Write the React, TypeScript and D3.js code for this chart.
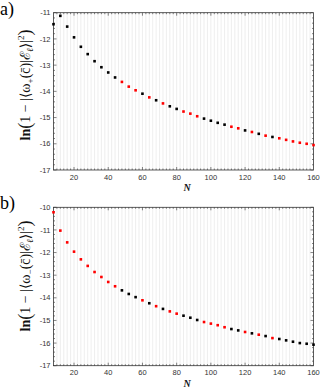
import React, { useEffect, useRef } from 'react';
import * as d3 from 'd3';

// N values (x axis)
const nValues = [8, 12, 16, 20, 24, 28, 32, 36, 40, 44, 48, 52, 56, 60, 64, 68, 72, 76, 80, 84,
  88, 92, 96, 100, 104, 108, 112, 116, 120, 124, 128, 132, 136, 140, 144, 148, 152, 156, 160];

// panel a) ln(1 - |<w+(c)|E_l>|^2)
const valuesA = [-11.44, -11.12, -11.53, -11.94, -12.30, -12.58, -12.85, -13.08, -13.28, -13.47,
  -13.64, -13.82, -13.96, -14.09, -14.23, -14.34, -14.46, -14.57, -14.67, -14.77,
  -14.85, -14.95, -15.04, -15.12, -15.20, -15.27, -15.35, -15.41, -15.49, -15.55,
  -15.62, -15.69, -15.74, -15.79, -15.85, -15.91, -15.96, -16.00, -16.05];
// k = black, r = red
const groupsA = 'kkkkkkkkkkrrrkrkrkkrrrkkkkrrkrkrkrrrrrr';

// panel b) ln(1 - |<w-(c)|E_l>|^2)
const valuesB = [-10.22, -11.03, -11.55, -11.96, -12.30, -12.59, -12.86, -13.08, -13.30, -13.49,
  -13.67, -13.83, -13.97, -14.11, -14.24, -14.37, -14.49, -14.60, -14.70, -14.79,
  -14.88, -14.98, -15.07, -15.14, -15.21, -15.30, -15.38, -15.44, -15.51, -15.57,
  -15.63, -15.69, -15.78, -15.82, -15.88, -15.94, -16.00, -16.03, -16.07];
const groupsB = 'rrrrrrrrrrkkkrkrkrrkkkrrrrkkrkrkrkkkkkk';

const xTicks = [20, 40, 60, 80, 100, 120, 140, 160];
const yTicksA = [-11, -12, -13, -14, -15, -16, -17];
const yTicksB = [-10, -11, -12, -13, -14, -15, -16, -17];

const colorOf: Record<string, string> = { k: '#000000', r: '#ff0000' };

function drawPanel(
  svg: d3.Selection<SVGSVGElement, unknown, null, undefined>,
  top: number, bottom: number,
  yDomain: [number, number], yTicks: number[],
  values: number[], groups: string,
  panelLabel: string, sign: string, labelY: number
) {
  const left = 53.5, right = 313.5;
  const x = d3.scaleLinear().domain([8, 160]).range([left, right]);
  const y = d3.scaleLinear().domain(yDomain).range([bottom, top]);
  const g = svg.append('g');

  // vertical grid
  g.selectAll('line.grid')
    .data(d3.range(10, 160, 2))
    .enter().append('line')
    .attr('x1', d => x(d)).attr('x2', d => x(d))
    .attr('y1', top).attr('y2', bottom)
    .attr('stroke', '#e6e6e6').attr('stroke-width', 0.7);

  // minor ticks x (inward, top and bottom)
  const xMinor = d3.range(10, 160, 2);
  [bottom, top].forEach((yy, i) => {
    g.selectAll(null).data(xMinor).enter().append('line')
      .attr('x1', d => x(d)).attr('x2', d => x(d))
      .attr('y1', yy).attr('y2', d => yy + (i === 0 ? -1 : 1) * (d % 20 === 0 ? 3 : 1.5))
      .attr('stroke', '#333').attr('stroke-width', 0.6);
  });
  // minor ticks y (left and right)
  const yMinor = d3.range(Math.round(yDomain[0] * 5), Math.round(yDomain[1] * 5) + 1).map(v => v / 5);
  [left, right].forEach((xx, i) => {
    g.selectAll(null).data(yMinor).enter().append('line')
      .attr('y1', d => y(d)).attr('y2', d => y(d))
      .attr('x1', xx).attr('x2', d => xx + (i === 0 ? 1 : -1) * (Math.abs(d - Math.round(d)) < 1e-6 ? 3 : 1.5))
      .attr('stroke', '#333').attr('stroke-width', 0.6);
  });

  // frame
  g.append('rect')
    .attr('x', left).attr('y', top)
    .attr('width', right - left).attr('height', bottom - top)
    .attr('fill', 'none').attr('stroke', '#333').attr('stroke-width', 0.8);

  // tick labels
  g.selectAll(null).data(xTicks).enter().append('text')
    .attr('x', d => x(d)).attr('y', bottom + 9.5)
    .attr('text-anchor', 'middle')
    .attr('font-family', 'Liberation Sans, Arial, sans-serif')
    .attr('font-size', 7.5).attr('fill', '#333')
    .text(d => String(d));
  g.selectAll(null).data(yTicks).enter().append('text')
    .attr('x', left - 3).attr('y', d => y(d) + 2.6)
    .attr('text-anchor', 'end')
    .attr('font-family', 'Liberation Sans, Arial, sans-serif')
    .attr('font-size', 7.5).attr('fill', '#333')
    .text(d => String(d));

  // N label
  g.append('text')
    .attr('x', 187).attr('y', bottom + 21)
    .attr('text-anchor', 'middle')
    .attr('font-family', 'Liberation Serif, serif')
    .attr('font-style', 'italic').attr('font-weight', 'bold')
    .attr('font-size', 10).attr('fill', '#111')
    .text('N');

  // y label
  const t = g.append('text')
    .attr('transform', `translate(30,${labelY}) rotate(-90)`)
    .attr('text-anchor', 'middle')
    .attr('font-family', 'Liberation Serif, DejaVu Serif, serif')
    .attr('font-size', 14).attr('fill', '#111');
  t.append('tspan').attr('font-weight', 'bold').text('ln');
  t.append('tspan').attr('font-size', 18).attr('dy', 1).text('(');
  t.append('tspan').attr('dy', -1).text('1 − |⟨ω');
  t.append('tspan').attr('font-size', 9).attr('dy', 3).text(sign);
  t.append('tspan').attr('dy', -3).text('(c\u0304)|ℰ');
  t.append('tspan').attr('font-size', 9).attr('dy', 3).attr('font-style', 'italic').text('ℓ');
  t.append('tspan').attr('dy', -3).text('⟩|');
  t.append('tspan').attr('font-size', 9).attr('dy', -6).text('2');
  t.append('tspan').attr('font-size', 18).attr('dy', 7).text(')');

  // panel label
  svg.append('text')
    .attr('x', 0).attr('y', top + 2)
    .attr('font-family', 'Liberation Serif, serif')
    .attr('font-size', 18).attr('fill', '#000')
    .text(panelLabel);

  // points
  g.selectAll('rect.pt')
    .data(values)
    .enter().append('rect')
    .attr('x', (d, i) => x(nValues[i]) - 1.3)
    .attr('y', d => y(d) - 1.3)
    .attr('width', 2.6).attr('height', 2.6)
    .attr('fill', (d, i) => colorOf[groups[i]]);
}

export default function App() {
  const ref = useRef<SVGSVGElement>(null);

  useEffect(() => {
    if (!ref.current) return;
    const svg = d3.select(ref.current);
    svg.selectAll('*').remove();
    svg.append('rect').attr('width', 325).attr('height', 391).attr('fill', '#fff');
    drawPanel(svg, 12.7, 170, [-17, -11], yTicksA, valuesA, groupsA, 'a)', '+', 85);
    drawPanel(svg, 207.3, 365.7, [-17, -10], yTicksB, valuesB, groupsB, 'b)', '−', 276);
  }, []);

  return (
    <svg ref={ref} width={325} height={391}
      style={{ position: 'absolute', left: 0, top: 0, display: 'block' }} />
  );
}
